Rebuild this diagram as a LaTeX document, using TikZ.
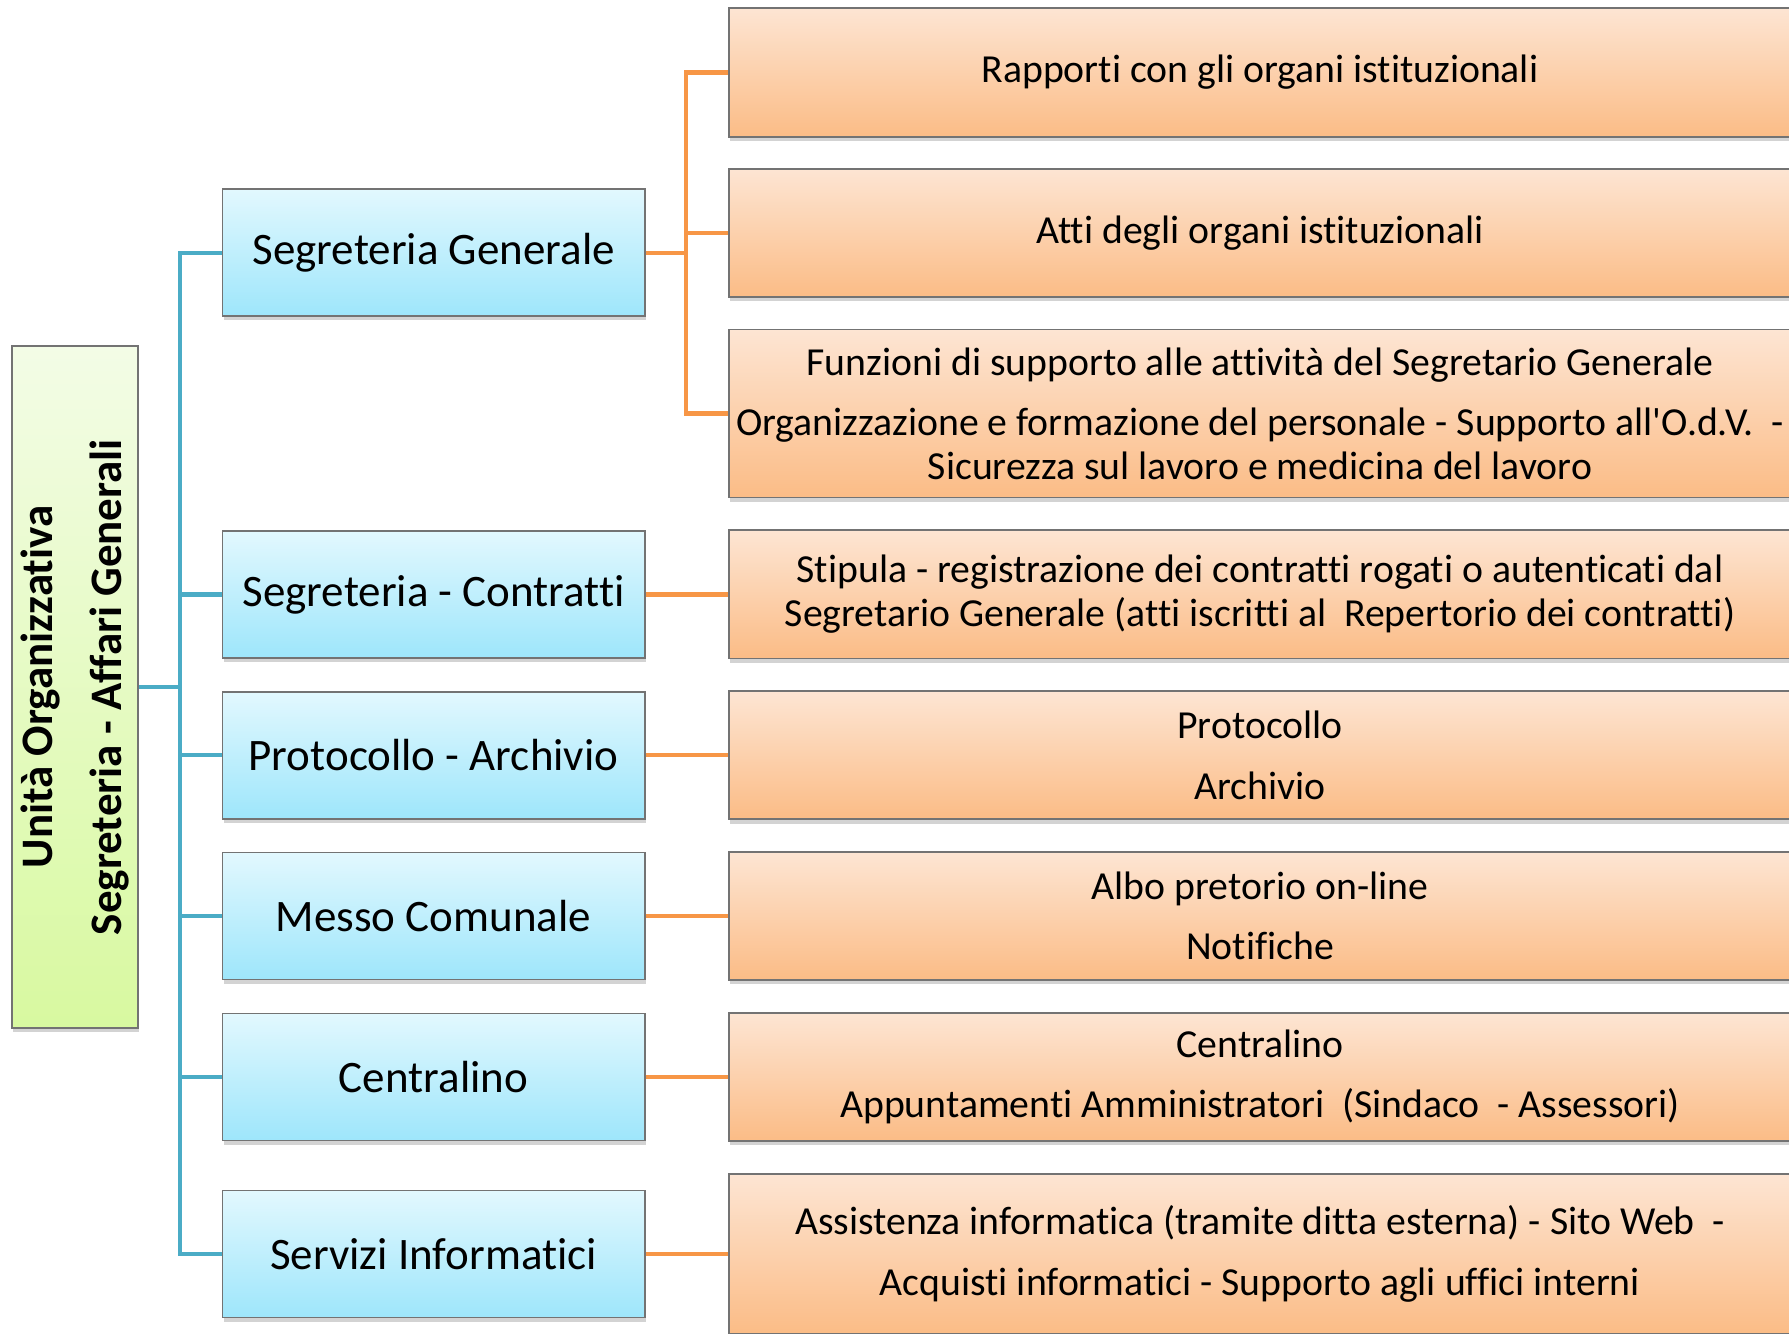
\documentclass[tikz,border=0pt]{standalone}
\usepackage{fontspec}
\setmainfont{Carlito}[Ligatures={NoCommon}]
\usetikzlibrary{shadows}
\definecolor{unittop}{HTML}{E2F8FE}
\definecolor{unitbot}{HTML}{9EE6FB}
\definecolor{tasktop}{HTML}{FDE5D3}
\definecolor{taskbot}{HTML}{FBBC86}
\definecolor{roottop}{HTML}{F3FCE6}
\definecolor{rootbot}{HTML}{D8F9A0}
\definecolor{bluelink}{HTML}{4BACC6}
\definecolor{orangelink}{HTML}{F79646}
\begin{document}
\begin{tikzpicture}[x=0.01cm,y=-0.01cm,
  boxbase/.style={draw=black!55, line width=0.5pt, drop shadow={shadow xshift=0.4pt, shadow yshift=-1.2pt, opacity=0.35}},
  rootbox/.style={boxbase, rotate=90, minimum width=6.82cm, minimum height=1.26cm, inner sep=1pt, align=center, top color=roottop, bottom color=rootbot, font=\fontsize{12.8}{15.4}\selectfont\bfseries},
  unitbox/.style={boxbase, minimum width=4.22cm, minimum height=1.27cm, top color=unittop, bottom color=unitbot, font=\fontsize{12.8}{15.4}\selectfont},
  taskbox/.style={boxbase, minimum width=10.62cm, inner sep=1pt, align=center, top color=tasktop, bottom color=taskbot, font=\fontsize{11.3}{12.4}\selectfont},
  bluelinestyle/.style={bluelink, line width=1.2pt},
  orangelinestyle/.style={orangelink, line width=1.2pt}]
  \useasboundingbox (0,0) rectangle (1789,1333);
  \node[rootbox] (R) at (74.7,687) {Unità Organizzativa\\[4.3pt]Segreteria - Affari Generali};

  \node[unitbox] (sg) at (433.5,252.7) {Segreteria Generale};
  \node[unitbox] (sc) at (433.5,594.4) {Segreteria - Contratti};
  \node[unitbox] (pa) at (433.5,755.3) {Protocollo - Archivio};
  \node[unitbox] (mc) at (433.5,916) {Messo Comunale};
  \node[unitbox] (ce) at (433.5,1077) {Centralino};
  \node[unitbox] (si) at (433.5,1254) {Servizi Informatici};

  \node[taskbox, minimum height=1.29cm] (t1) at (1260,72.5) {Rapporti con gli organi istituzionali};
  \node[taskbox, minimum height=1.28cm] (t2) at (1260,232.8) {Atti degli organi istituzionali};
  \node[taskbox, minimum height=1.68cm] (t3) at (1260,413.5) {Funzioni di supporto alle attività del Segretario Generale\\[4.8pt]Organizzazione e formazione del personale - Supporto all\textquotesingle O.d.V.~~-\\Sicurezza sul lavoro e medicina del lavoro};
  \node[taskbox, minimum height=1.28cm] (t4) at (1260,594.4) {Stipula - registrazione dei contratti rogati o autenticati dal\\Segretario Generale (atti iscritti al~~Repertorio dei contratti)};
  \node[taskbox, minimum height=1.28cm] (t5) at (1260,755.3) {Protocollo\\[4.8pt]Archivio};
  \node[taskbox, minimum height=1.28cm] (t6) at (1260,916) {Albo pretorio on-line\\[4.8pt]Notifiche};
  \node[taskbox, minimum height=1.28cm] (t7) at (1260,1077) {Centralino\\[4.8pt]Appuntamenti Amministratori~~(Sindaco~~- Assessori)};
  \node[taskbox, minimum height=1.6cm] (t8) at (1260,1254) {Assistenza informatica (tramite ditta esterna) - Sito Web~~-\\[4.8pt]Acquisti informatici - Supporto agli uffici interni};

  \coordinate (bj) at (180,687);
  \coordinate (oj) at (686,252.7);
  \draw[bluelinestyle] (R) -- (bj);
  \draw[bluelinestyle] (bj) |- (sg);
  \draw[bluelinestyle] (bj) |- (sc);
  \draw[bluelinestyle] (bj) |- (pa);
  \draw[bluelinestyle] (bj) |- (mc);
  \draw[bluelinestyle] (bj) |- (ce);
  \draw[bluelinestyle] (bj) |- (si);

  \draw[orangelinestyle] (sg) -- (oj);
  \draw[orangelinestyle] (oj) |- (t1);
  \draw[orangelinestyle] (oj) |- (t2);
  \draw[orangelinestyle] (oj) |- (t3);
  \draw[orangelinestyle] (sc) -- (t4);
  \draw[orangelinestyle] (pa) -- (t5);
  \draw[orangelinestyle] (mc) -- (t6);
  \draw[orangelinestyle] (ce) -- (t7);
  \draw[orangelinestyle] (si) -- (t8);
\end{tikzpicture}
\end{document}
